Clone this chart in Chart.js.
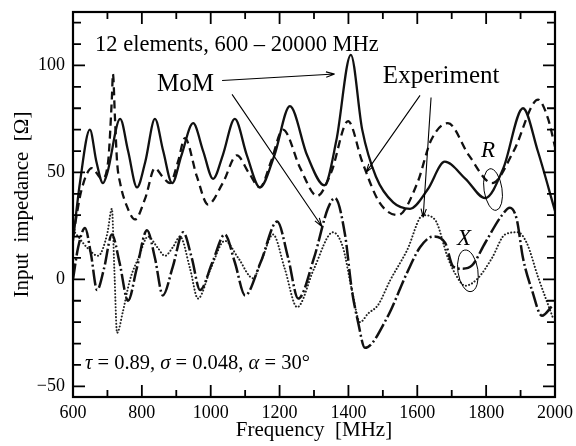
<!DOCTYPE html>
<html lang="en">
<head>
<meta charset="UTF-8">
<title>Input impedance - 12 elements</title>
<script src="https://cdn.jsdelivr.net/npm/chart.js"></script>
<style>
  html, body { margin: 0; padding: 0; background: #fff; }
  canvas { display: block; }
</style>
</head>
<body>
<canvas id="impChart" width="576" height="446"></canvas>
<script>
// R, MoM (solid)
const rMomFreq = [600, 620, 649, 668, 687, 700, 737, 760, 786, 810, 838, 862, 888, 915, 949, 978, 1007, 1035, 1070, 1105, 1143, 1185, 1230, 1280, 1330, 1365, 1407, 1440, 1480, 1530, 1579, 1630, 1680, 1740, 1797, 1850, 1907, 1950, 2000];
const rMomVal  = [18, 45, 70, 55, 45, 50, 75, 60, 43, 55, 75, 60, 45, 58, 73, 60, 47, 58, 75, 58, 43, 58, 81, 58, 44, 65, 105, 70, 48, 36, 33, 42, 55, 47, 38, 52, 80, 60, 32];

// R, experiment (dashed)
const rExpFreq = [600, 625, 655, 684, 702, 713, 716, 722, 728, 737, 757, 780, 810, 838, 860, 882, 905, 925, 960, 992, 1035, 1076, 1110, 1143, 1175, 1210, 1260, 1309, 1350, 1399, 1440, 1490, 1544, 1600, 1640, 1689, 1750, 1817, 1880, 1951, 1980, 2000];
const rExpVal  = [20, 42, 52, 47, 55, 85, 96, 75, 55, 45, 34, 28, 38, 52, 48, 45, 55, 66, 48, 35, 45, 58, 50, 43, 55, 70, 52, 39, 50, 74, 55, 36, 30, 45, 65, 73, 58, 45, 60, 84, 75, 62];

// X, MoM (dash-dot)
const xMomFreq = [600, 615, 635, 652, 670, 690, 713, 735, 760, 785, 815, 838, 861, 890, 920, 945, 969, 1005, 1041, 1070, 1100, 1145, 1193, 1225, 1254, 1300, 1340, 1361, 1390, 1410, 1428, 1448, 1512, 1570, 1608, 1646, 1681, 1704, 1730, 1759, 1797, 1846, 1869, 1889, 1907, 1933, 1962, 1994];
const xMomVal  = [0, 15, 24, 12, -5, 5, 21, 8, -10, 5, 23, 10, -7.5, 6, 22, 10, -5, 8, 21, 8, -7.5, 8, 27, 10, -9, 10, 33, 38, 21, -5, -20, -32, -18, 3, 15, 20, 17, 6, 5, 6.5, 17, 30, 33.5, 28, 10, -5, -17, -12];

// X, experiment (dotted)
const xExpFreq = [600, 615, 640, 673, 699, 713, 720, 728, 745, 765, 790, 818, 845, 867, 890, 911, 940, 963, 1000, 1041, 1080, 1123, 1150, 1181, 1215, 1251, 1300, 1355, 1384, 1410, 1434, 1457, 1486, 1521, 1570, 1617, 1651, 1689, 1709, 1739, 1776, 1817, 1855, 1892, 1918, 1951, 1994];
const xExpVal  = [23, 20, 15, 11, 21, 33, 5, -25, -15, -0.5, 10, 20, 15, 11, 15, 20, 5, -9, 5, 18, 10, 0.5, 10, 21, 5, -13, 5, 22, 15, -5, -20, -16, -12, -0.5, 13.5, 30, 28, 10, 3, -3, 0.5, 10, 21, 22, 17, 1, -18];

// axis labels
const xTickLabels = [600, 800, 1000, 1200, 1400, 1600, 1800, 2000];
const yTickLabels = [-50, 0, 50, 100];

const serif = '"Liberation Serif", "Times New Roman", serif';
const pts = (fs, vs) => fs.map((f, i) => ({ x: f, y: vs[i] }));

// inward ticks on all four sides + the box
const framePlugin = {
  id: 'frame',
  afterDatasetsDraw(chart) {
    const { ctx, chartArea: a, scales: { x, y } } = chart;
    ctx.save();
    ctx.strokeStyle = '#000';
    ctx.lineWidth = 1.8;
    ctx.beginPath();
    for (let f = 600; f <= 2000; f += 100) {
      const px = x.getPixelForValue(f);
      const len = f % 200 === 0 ? 12 : 7;
      ctx.moveTo(px, a.bottom); ctx.lineTo(px, a.bottom - len);
      ctx.moveTo(px, a.top); ctx.lineTo(px, a.top + len);
    }
    for (let v = -50; v <= 120; v += 10) {
      const py = y.getPixelForValue(v);
      const len = v % 50 === 0 ? 12 : 8;
      ctx.moveTo(a.left, py); ctx.lineTo(a.left + len, py);
      ctx.moveTo(a.right, py); ctx.lineTo(a.right - len, py);
    }
    ctx.stroke();
    ctx.lineWidth = 2.2;
    ctx.strokeRect(a.left, a.top, a.right - a.left, a.bottom - a.top);
    ctx.restore();
  }
};

// texts, arrows and loops
const notesPlugin = {
  id: 'notes',
  afterDraw(chart) {
    const { ctx, scales: { x, y } } = chart;
    const X = f => x.getPixelForValue(f);
    const Y = v => y.getPixelForValue(v);
    ctx.save();
    ctx.fillStyle = '#000';
    ctx.strokeStyle = '#000';
    ctx.textBaseline = 'alphabetic';

    ctx.font = '22.5px ' + serif;
    ctx.fillText('12 elements, 600 \u2013 20000 MHz', X(664), Y(107));
    ctx.font = '25px ' + serif;
    ctx.fillText('MoM', X(844), Y(88));
    ctx.fillText('Experiment', X(1500), Y(92));

    ctx.font = 'italic 23px ' + serif;
    ctx.fillText('R', X(1785), Y(57));
    ctx.fillText('X', X(1715), Y(16));

    // parameters line, greek letters in italic
    const parts = [['\u03c4', true], [' = 0.89, ', false], ['\u03c3', true], [' = 0.048, ', false], ['\u03b1', true], [' = 30\u00b0', false]];
    let tx = X(635);
    const ty = Y(-42);
    parts.forEach(([s, it]) => {
      ctx.font = (it ? 'italic ' : '') + '20.5px ' + serif;
      ctx.fillText(s, tx, ty);
      tx += ctx.measureText(s).width;
    });

    const arrow = (f0, v0, f1, v1) => {
      const x0 = X(f0), y0 = Y(v0), x1 = X(f1), y1 = Y(v1);
      const ang = Math.atan2(y1 - y0, x1 - x0);
      ctx.lineWidth = 1.1;
      ctx.beginPath();
      ctx.moveTo(x0, y0); ctx.lineTo(x1, y1);
      ctx.moveTo(x1, y1); ctx.lineTo(x1 - 9 * Math.cos(ang - 0.3), y1 - 9 * Math.sin(ang - 0.3));
      ctx.moveTo(x1, y1); ctx.lineTo(x1 - 9 * Math.cos(ang + 0.3), y1 - 9 * Math.sin(ang + 0.3));
      ctx.stroke();
    };
    arrow(1033, 93, 1360, 96);
    arrow(1062, 86.5, 1323, 24.7);
    arrow(1608, 86, 1451, 50);
    arrow(1640, 85, 1617, 29);

    ctx.lineWidth = 1;
    ctx.beginPath();
    ctx.ellipse(X(1820), Y(42), 9, 21, -0.15, 0, Math.PI * 2);
    ctx.stroke();
    ctx.beginPath();
    ctx.ellipse(X(1747), Y(4), 10, 21, -0.15, 0, Math.PI * 2);
    ctx.stroke();
    ctx.restore();
  }
};

const ctx = document.getElementById('impChart').getContext('2d');
new Chart(ctx, {
  type: 'line',
  data: {
    datasets: [
      { label: 'R MoM', data: pts(rMomFreq, rMomVal), borderColor: '#111', borderWidth: 2.3 },
      { label: 'R experiment', data: pts(rExpFreq, rExpVal), borderColor: '#111', borderWidth: 2.3, borderDash: [8, 5] },
      { label: 'X MoM', data: pts(xMomFreq, xMomVal), borderColor: '#111', borderWidth: 2.5, borderDash: [16, 3, 2, 3] },
      { label: 'X experiment', data: pts(xExpFreq, xExpVal), borderColor: '#222', borderWidth: 2, borderDash: [0.1, 3.2], borderCapStyle: 'round' }
    ]
  },
  options: {
    responsive: false,
    animation: false,
    devicePixelRatio: 1,
    layout: { padding: { top: 12, right: 21, left: 0, bottom: 0 } },
    elements: {
      point: { radius: 0 },
      line: { cubicInterpolationMode: 'monotone', fill: false }
    },
    plugins: { legend: { display: false }, tooltip: { enabled: false } },
    scales: {
      x: {
        type: 'linear',
        min: 600, max: 2000,
        afterBuildTicks: axis => { axis.ticks = xTickLabels.map(v => ({ value: v })); },
        afterFit: axis => { axis.height = 49; axis.paddingLeft = 0; axis.paddingRight = 0; },
        grid: { display: false, drawTicks: false },
        border: { display: false },
        ticks: { color: '#000', padding: 5, maxRotation: 0, font: { family: serif, size: 18 },
          callback: v => String(v) },
        title: { display: true, text: 'Frequency  [MHz]', color: '#000', font: { family: serif, size: 21 }, padding: { top: 0, bottom: 3 } }
      },
      y: {
        min: -55, max: 125,
        afterBuildTicks: axis => { axis.ticks = yTickLabels.map(v => ({ value: v })); },
        afterFit: axis => { axis.width = 73; axis.paddingTop = 0; axis.paddingBottom = 0; },
        grid: { display: false, drawTicks: false },
        border: { display: false },
        ticks: { color: '#000', padding: 8, font: { family: serif, size: 18 },
          callback: v => v < 0 ? '\u2212' + Math.abs(v) : String(v) },
        title: { display: true, text: 'Input  impedance  [\u03a9]', color: '#000', font: { family: serif, size: 21 }, padding: { top: 10, bottom: 0 } }
      }
    }
  },
  plugins: [framePlugin, notesPlugin]
});
</script>
</body>
</html>
